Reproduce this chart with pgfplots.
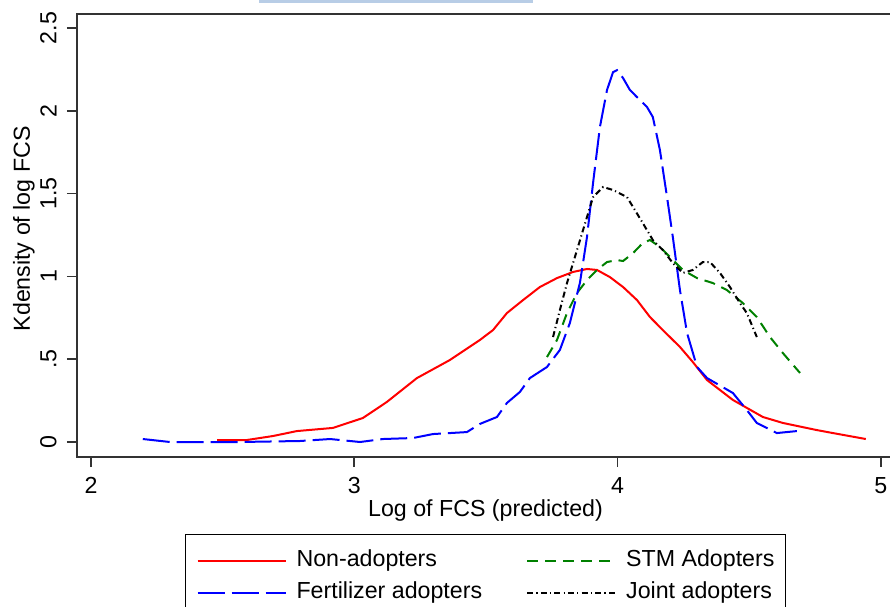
\documentclass[border=0pt]{standalone}
\usepackage{fontspec}
\setmainfont{Liberation Sans}
\usepackage{pgfplots}
\pgfplotsset{compat=1.18}
\definecolor{stgreen}{RGB}{0,128,0}
\definecolor{selblue}{RGB}{184,205,230}

\begin{document}
\begin{tikzpicture}[font=\fontsize{11.6}{13.9}\selectfont]
\useasboundingbox (0,0) rectangle (445pt,303pt);
\clip (0,0) rectangle (445pt,303pt);
% stray highlight strip at the top of the screenshot
\fill[selblue] (129.5pt,301.5pt) rectangle (266.5pt,303pt);
\begin{axis}[
  at={(38.5pt,74.5pt)}, anchor=south west,
  scale only axis,
  width=408.5pt, height=221.5pt,
  xmin=1.947, xmax=5.05,
  ymin=-0.0906, ymax=2.585,
  axis line style={line width=1pt, black!80},
  tick style={line width=0.8pt, black!80},
  tick align=outside,
  major tick length=5pt,
  tick label style={font=\fontsize{11.6}{13.9}\selectfont},
  label style={font=\fontsize{11.6}{13.9}\selectfont},
  xtick={2,3,4,5}, xticklabels={2,3,4,5},
  ytick={0,0.5,1,1.5,2,2.5}, yticklabels={0,.5,1,1.5,2,2.5},
  xtick pos=bottom, ytick pos=left,
  xticklabel style={inner xsep=0pt, inner ysep=5pt},
  yticklabel style={rotate=90, anchor=south, inner xsep=0pt, inner ysep=5pt},
  xlabel={Log of FCS (predicted)},
  ylabel={Kdensity of log FCS},
  xlabel style={at={(axis description cs:0.5,-0.12)}, anchor=center, inner sep=0pt},
  ylabel style={at={(axis description cs:-0.065,0.515)}, anchor=center, inner sep=0pt},
  legend columns=2,
  legend cell align=left,
  legend image code/.code={\draw[#1] (0pt,0pt) -- (44pt,0pt);},
  legend style={
    font=\fontsize{11.6}{13.9}\selectfont,
    at={(axis description cs:0.5,-0.1738)}, anchor=north,
    draw=black, line width=0.6pt,
    inner xsep=5.5pt, inner ysep=7pt,
    nodes={inner sep=0pt, text height=9pt, text depth=3pt},
    row sep=4pt,
    /tikz/every odd column/.append style={column sep=5pt},
    /tikz/every even column/.append style={column sep=22pt},
  },
]
% Non-adopters
\addplot[red, line width=1pt, solid] coordinates {
(2.479,0.012) (2.592,0.012) (2.691,0.036) (2.782,0.066) (2.919,0.085)
(3.033,0.145) (3.124,0.242) (3.238,0.386) (3.363,0.495) (3.477,0.616)
(3.527,0.676) (3.580,0.779) (3.641,0.857) (3.705,0.936) (3.770,0.990)
(3.831,1.027) (3.884,1.045) (3.922,1.039) (3.971,0.996) (4.021,0.936)
(4.074,0.857) (4.123,0.755) (4.172,0.676) (4.237,0.574) (4.286,0.483)
(4.340,0.374) (4.438,0.254) (4.552,0.151) (4.628,0.115) (4.757,0.072)
(4.818,0.054) (4.943,0.018)
};
\addlegendentry{Non-adopters}
% STM adopters
\addplot[stgreen, line width=1pt, dash pattern=on 5.5pt off 3.5pt] coordinates {
(3.732,0.513) (3.770,0.616) (3.808,0.779) (3.846,0.900) (3.884,0.978)
(3.922,1.039) (3.960,1.087) (3.998,1.099) (4.021,1.093) (4.059,1.141)
(4.096,1.202) (4.123,1.220) (4.161,1.178) (4.199,1.117) (4.248,1.039)
(4.302,0.990) (4.362,0.960) (4.415,0.918) (4.476,0.839) (4.529,0.755)
(4.579,0.634) (4.628,0.537) (4.693,0.417)
};
\addlegendentry{STM Adopters}
% Fertilizer adopters
\addplot[blue, line width=1pt, dash pattern=on 13.5pt off 3.5pt] coordinates {
(2.197,0.018) (2.300,0.000) (2.327,0.000) (2.566,0.000) (2.794,0.006)
(2.908,0.018) (3.022,0.000) (3.109,0.018) (3.223,0.024) (3.299,0.048)
(3.428,0.060) (3.477,0.109) (3.542,0.151) (3.580,0.236) (3.629,0.302)
(3.667,0.386) (3.732,0.453) (3.781,0.556) (3.819,0.719) (3.857,0.960)
(3.884,1.238) (3.907,1.564) (3.933,1.902) (3.960,2.126) (3.983,2.234)
(3.998,2.246) (4.021,2.198) (4.047,2.126) (4.074,2.083) (4.112,2.023)
(4.134,1.963) (4.161,1.763) (4.188,1.479) (4.210,1.238) (4.237,0.918)
(4.264,0.658) (4.302,0.453) (4.340,0.386) (4.438,0.296) (4.491,0.193)
(4.529,0.115) (4.567,0.085) (4.605,0.054) (4.681,0.066)
};
\addlegendentry{Fertilizer adopters}
% Joint adopters
\addplot[black, line width=1pt, dash pattern=on 3pt off 1.6pt on 0.6pt off 1.6pt] coordinates {
(3.755,0.634) (3.781,0.797) (3.808,0.960) (3.846,1.159) (3.884,1.359)
(3.907,1.479) (3.945,1.540) (3.983,1.522) (4.036,1.479) (4.059,1.419)
(4.096,1.322) (4.134,1.220) (4.172,1.159) (4.210,1.081) (4.248,1.021)
(4.286,1.039) (4.324,1.087) (4.351,1.087) (4.389,1.021) (4.427,0.936)
(4.465,0.839) (4.491,0.779) (4.529,0.634)
};
\addlegendentry{Joint adopters}
\end{axis}
\end{tikzpicture}
\end{document}
